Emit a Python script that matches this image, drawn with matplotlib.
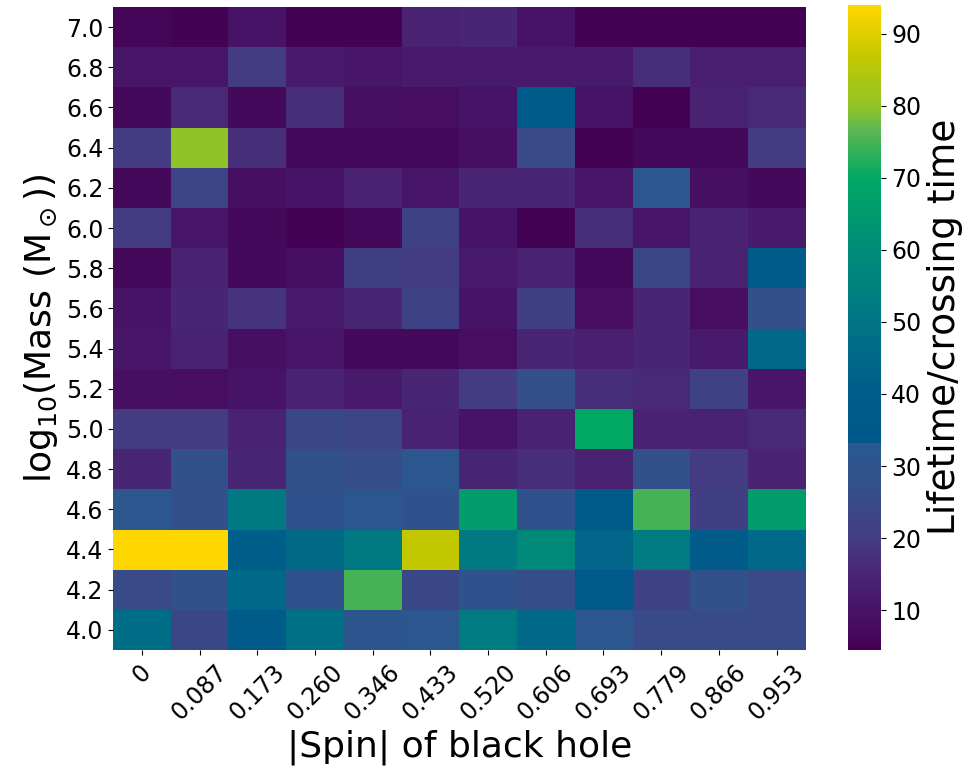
import numpy as np
import matplotlib
matplotlib.use("Agg")
import matplotlib.pyplot as plt
from matplotlib.colors import LinearSegmentedColormap

spins = ["0", "0.087", "0.173", "0.260", "0.346", "0.433",
         "0.520", "0.606", "0.693", "0.779", "0.866", "0.953"]
masses = ["4.0", "4.2", "4.4", "4.6", "4.8", "5.0", "5.2", "5.4",
          "5.6", "5.8", "6.0", "6.2", "6.4", "6.6", "6.8", "7.0"]

# lifetime / crossing time, rows from log10 M = 4.0 (bottom) to 7.0 (top)
vals = [
    [47, 24, 40, 48, 31, 32, 53, 45, 32, 25, 25, 25],   # 4.0
    [25, 28, 45, 29, 75, 24, 29, 26, 37, 22, 28, 25],   # 4.2
    [94, 94, 41, 46, 52, 87, 52, 59, 44, 53, 40, 45],   # 4.4
    [32, 27, 52, 29, 32, 29, 66, 29, 39, 75, 21, 66],   # 4.6
    [15, 28, 15, 28, 26, 32, 15, 17, 14, 28, 20, 14],   # 4.8
    [20, 20, 14, 24, 23, 14, 10, 14, 70, 14, 14, 16],   # 5.0
    [9, 8, 10, 14, 12, 15, 20, 27, 17, 16, 22, 11],     # 5.2
    [11, 14, 9, 11, 7, 7, 8, 15, 13, 15, 12, 45],       # 5.4
    [10, 15, 18, 12, 15, 22, 10, 21, 8, 15, 8, 27],     # 5.6
    [7, 14, 7, 9, 21, 20, 12, 14, 7, 24, 14, 40],       # 5.8
    [20, 11, 7, 5, 7, 22, 10, 5, 17, 11, 14, 12],       # 6.0
    [7, 23, 9, 10, 14, 11, 15, 15, 11, 33, 9, 7],       # 6.2
    [20, 80, 17, 7, 7, 7, 9, 25, 5, 7, 7, 20],          # 6.4
    [7, 16, 7, 17, 9, 8, 10, 38, 10, 5, 14, 16],        # 6.6
    [11, 11, 20, 12, 11, 12, 12, 12, 12, 17, 13, 13],   # 6.8
    [6, 5, 10, 5, 5, 14, 15, 10, 5, 4.5, 4.5, 4.5],     # 7.0
]
data = np.array(vals, dtype=float)

vmin, vmax = 4.5, 94
nodes = [(4.5, "#440154"), (10, "#481467"), (15, "#4a2674"), (20, "#433d84"),
         (27, "#34508a"), (33, "#2a5890"), (33.05, "#00578a"), (40, "#005c8b"),
         (50, "#007585"), (60, "#008c78"), (70, "#00a865"), (77, "#60b850"),
         (80, "#90c428"), (87, "#c4c800"), (94, "#ffd700")]
cmap = LinearSegmentedColormap.from_list(
    "life", [((v - vmin) / (vmax - vmin), c) for v, c in nodes])

fig = plt.figure(figsize=(9.75, 7.82), dpi=100)
ax = fig.add_axes([0.116, 0.169, 0.710, 0.822])
cax = fig.add_axes([0.870, 0.169, 0.034, 0.825])

im = ax.imshow(data, cmap=cmap, vmin=vmin, vmax=vmax, aspect="auto",
               origin="lower", interpolation="nearest")

ax.set_xticks(np.arange(len(spins)))
ax.set_xticklabels(spins, rotation=45, fontsize=17)
ax.set_yticks(np.arange(len(masses)))
ax.set_yticklabels(masses, fontsize=17)
for s in ax.spines.values():
    s.set_visible(False)
ax.set_xlabel("|Spin| of black hole", fontsize=26)
ax.set_ylabel(r"log$_{10}$(Mass (M$_\odot$))", fontsize=26)

cb = fig.colorbar(im, cax=cax)
cb.outline.set_visible(False)
cb.set_ticks([10, 20, 30, 40, 50, 60, 70, 80, 90])
cb.ax.tick_params(labelsize=17)
cb.set_label("Lifetime/crossing time", fontsize=27)

fig.savefig("out.png", dpi=100)
